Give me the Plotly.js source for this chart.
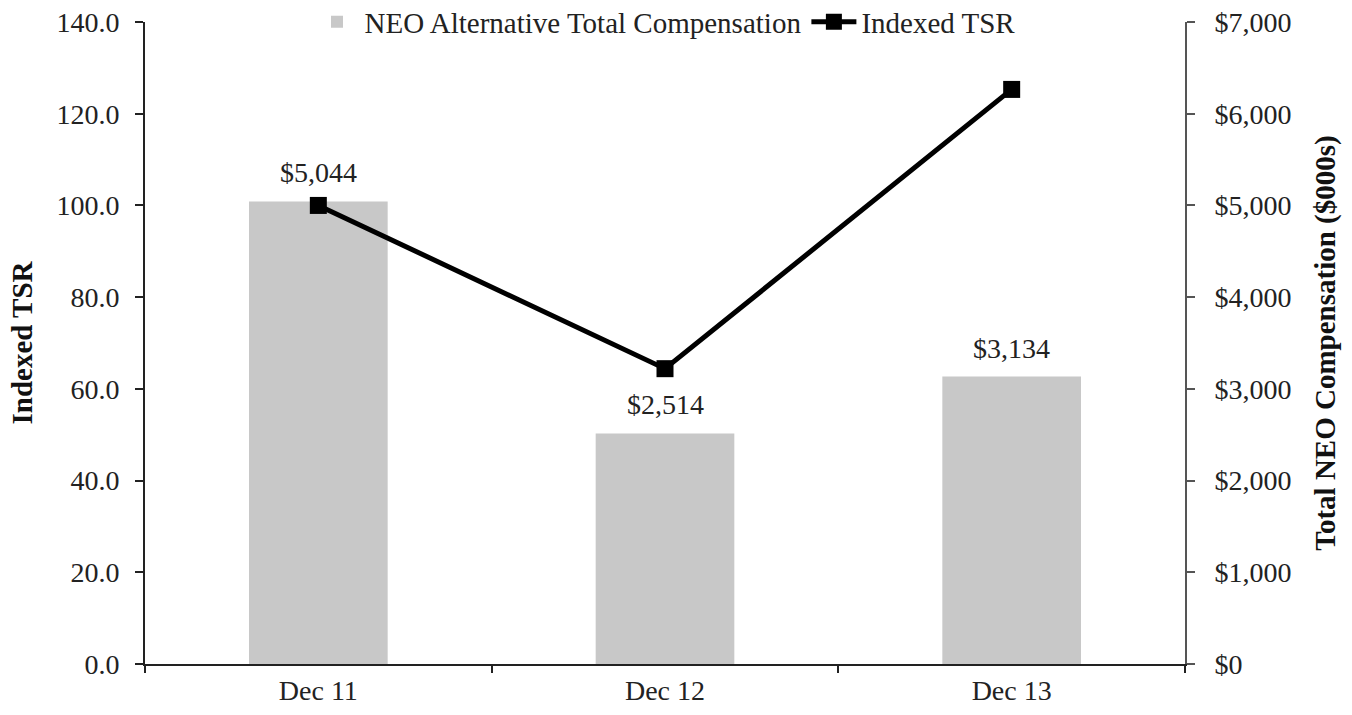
<!DOCTYPE html>
<html>
<head>
<meta charset="utf-8">
<script src="https://cdn.plot.ly/plotly-3.0.1.min.js"></script>
<style>html,body{margin:0;padding:0;background:#fff;}#chart{width:1352px;height:715px;}</style>
</head>
<body>
<div id="chart"></div>
<script>
const categories = ["Dec 11", "Dec 12", "Dec 13"];
const compensation = [5044, 2514, 3134];
const indexedTSR = [100.0, 64.4, 125.3];
const leftTicks = [0, 20, 40, 60, 80, 100, 120, 140];
const rightTicks = [0, 1000, 2000, 3000, 4000, 5000, 6000, 7000];

const font = "Liberation Serif";
const money = v => "$" + v.toLocaleString("en-US");

const barTrace = {
  type: "bar",
  x: categories,
  y: compensation,
  yaxis: "y",
  name: "NEO Alternative Total Compensation",
  marker: {color: "#c8c8c8"},
  width: 0.4
};
const lineTrace = {
  type: "scatter",
  mode: "lines+markers",
  x: categories,
  y: indexedTSR,
  yaxis: "y2",
  name: "Indexed TSR",
  line: {color: "#000", width: 5},
  marker: {symbol: "square", size: 17, color: "#000"}
};

const annotations = categories.map((c, i) => ({
  x: c, y: compensation[i], xref: "x", yref: "y",
  text: money(compensation[i]),
  showarrow: false, yanchor: "bottom", yshift: 11,
  font: {family: font, size: 28, color: "#222"}
}));

const layout = {
  width: 1352, height: 715,
  margin: {l: 145, r: 167, t: 22, b: 51, autoexpand: false},
  paper_bgcolor: "#fff", plot_bgcolor: "#fff",
  font: {family: font, size: 28, color: "#222"},
  showlegend: true,
  legend: {
    orientation: "h", x: 0.5, xanchor: "center", y: 1.0, yanchor: "middle",
    font: {family: font, size: 29, color: "#222"},
    bgcolor: "rgba(255,255,255,0)", traceorder: "normal", itemwidth: 45
  },
  xaxis: {
    type: "category",
    showline: true, linecolor: "#222", linewidth: 2,
    ticks: "outside", tickson: "boundaries", ticklen: 7, tickwidth: 2, tickcolor: "#222",
    showgrid: false, zeroline: false, automargin: false,
    tickfont: {family: font, size: 28, color: "#222"}
  },
  yaxis: {
    range: [0, 7000], tickvals: rightTicks, ticktext: rightTicks.map(money),
    side: "right",
    showline: true, linecolor: "#555", linewidth: 2,
    ticks: "outside", ticklen: 8, tickwidth: 2, tickcolor: "#555", ticklabelstandoff: 14,
    showgrid: false, zeroline: false, automargin: false,
    tickfont: {family: font, size: 28, color: "#222"},
    title: {text: "<b>Total NEO Compensation ($000s)</b>", font: {family: font, size: 29, color: "#111"}, standoff: 24}
  },
  yaxis2: {
    range: [0, 140], tickvals: leftTicks, ticktext: leftTicks.map(v => v.toFixed(1)),
    overlaying: "y", side: "left",
    showline: true, linecolor: "#222", linewidth: 2,
    ticks: "outside", ticklen: 8, tickwidth: 2, tickcolor: "#222", ticklabelstandoff: 10,
    showgrid: false, zeroline: false, automargin: false,
    tickfont: {family: font, size: 28, color: "#222"},
    title: {text: "<b>Indexed TSR</b>", font: {family: font, size: 29, color: "#111"}, standoff: 15}
  },
  annotations: annotations
};

Plotly.newPlot("chart", [barTrace, lineTrace], layout, {displayModeBar: false, staticPlot: true});
</script>
</body>
</html>
